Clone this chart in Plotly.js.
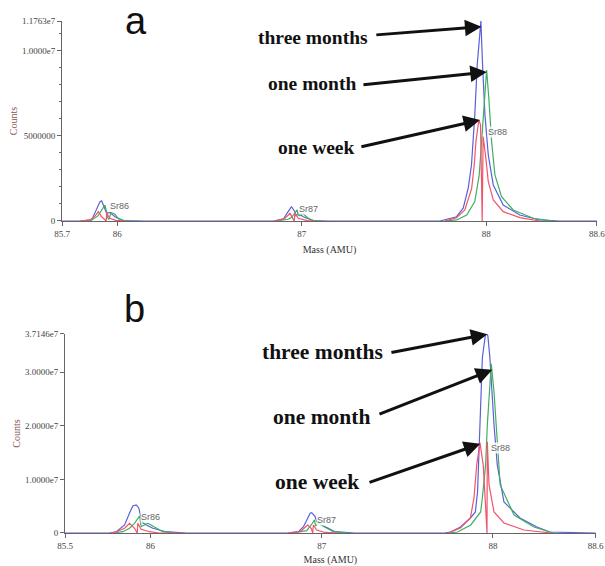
<!DOCTYPE html>
<html>
<head>
<meta charset="utf-8">
<script src="https://cdn.plot.ly/plotly-3.0.1.min.js"></script>
<style>html,body{margin:0;padding:0;background:#fff;}#chart{width:605px;height:566px;}</style>
</head>
<body>
<div id="chart"></div>
<script>
// ---------- DATA ----------
const seriesNames = ['three months', 'one month', 'one week'];
const isotopeLabels = ['Sr86', 'Sr87', 'Sr88'];
const panelLetters = ['a', 'b'];

// Panel a
const massA_threeMonths = [85.70, 85.798, 85.861, 85.888, 85.906, 85.915, 85.933, 85.942, 85.960, 85.987, 86.032, 86.150,
  86.844, 86.899, 86.926, 86.944, 86.963, 86.968, 86.980, 87.008, 87.062, 87.150,
  87.749, 87.839, 87.875, 87.902, 87.920, 87.938, 87.951, 87.971, 87.980, 87.993, 88.011, 88.038, 88.092, 88.182, 88.291, 88.399, 88.60];
const countsA_threeMonths = [0, 0, 0.06e6, 0.65e6, 1.14e6, 1.19e6, 0.75e6, 0.45e6, 0.51e6, 0.25e6, 0.02e6, 0,
  0, 0.10e6, 0.55e6, 0.84e6, 0.55e6, 0.29e6, 0.45e6, 0.25e6, 0.02e6, 0,
  0, 0.25e6, 0.75e6, 1.92e6, 3.29e6, 6.24e6, 9.18e6, 11.763e6, 9.18e6, 6.24e6, 3.88e6, 2.12e6, 0.94e6, 0.35e6, 0.06e6, 0, 0];

const massA_oneMonth = [85.825, 85.861, 85.895, 85.915, 85.933, 85.940, 85.946, 85.955, 85.965, 85.987, 86.004, 86.036, 86.070, null,
  86.860, 86.926, 86.945, 86.975, 86.981, 86.990, 87.005, 87.035, 87.062, 87.100, null,
  87.776, 87.839, 87.894, 87.938, 87.962, 87.975, 87.989, 88.002, 88.014, 88.029, 88.047, 88.083, 88.146, 88.255, 88.361];
const countsA_oneMonth = [0, 0.06e6, 0.30e6, 0.65e6, 0.94e6, 0.60e6, 0.20e6, 0.10e6, 0.50e6, 0.40e6, 0.15e6, 0.02e6, 0, null,
  0, 0.10e6, 0.22e6, 0.65e6, 0.35e6, 0.30e6, 0.45e6, 0.16e6, 0.02e6, 0, null,
  0, 0.06e6, 0.35e6, 1.14e6, 2.71e6, 4.67e6, 7.22e6, 8.88e6, 7.22e6, 4.67e6, 2.71e6, 1.43e6, 0.65e6, 0.16e6, 0];

const massA_oneWeek = [85.798, 85.852, 85.880, 85.897, 85.915, 85.938, 85.940, 85.942, 85.950, 85.960, 85.990, 86.050, null,
  86.850, 86.909, 86.936, 86.950, 86.959, 86.963, 86.981, 87.030, 87.080, null,
  87.776, 87.839, 87.884, 87.921, 87.935, 87.944, 87.960, 87.969, 87.978, 87.983, 87.996, 88.011, 88.038, 88.092, 88.182, 88.291];
const countsA_oneWeek = [0, 0.06e6, 0.30e6, 0.55e6, 0.25e6, 0.05e6, 0, 0.53e6, 0.30e6, 0.16e6, 0.04e6, 0, null,
  0, 0.16e6, 0.45e6, 0.22e6, 0, 0.47e6, 0.16e6, 0.02e6, 0, null,
  0, 0.20e6, 0.65e6, 1.92e6, 3.29e6, 4.67e6, 5.94e6, 5.65e6, 0, 4.96e6, 3.88e6, 2.31e6, 1.24e6, 0.55e6, 0.20e6, 0];

// Panel b
const massB_threeMonths = [85.50, 85.761, 85.800, 85.848, 85.877, 85.896, 85.916, 85.931, 85.945, 85.955, 85.975, 86.013, 86.090, 86.206,
  86.796, 86.864, 86.893, 86.912, 86.932, 86.941, 86.961, 86.970, 86.999, 87.038, 87.077, 87.193,
  87.717, 87.752, 87.810, 87.868, 87.897, 87.910, 87.918, 87.924, 87.938, 87.955, 87.963, 87.970, 87.982, 88.006, 88.025, 88.064, 88.158, 88.257, 88.332, 88.60];
const countsB_threeMonths = [0, 0, 0.24e6, 1.50e6, 3.74e6, 5.05e6, 5.23e6, 4.67e6, 2.74e6, 1.90e6, 1.50e6, 0.88e6, 0.24e6, 0,
  0, 0.24e6, 1.18e6, 2.43e6, 3.68e6, 3.79e6, 3.05e6, 2.11e6, 1.50e6, 0.88e6, 0.24e6, 0,
  0, 0.19e6, 1.12e6, 2.80e6, 3.93e6, 7.72e6, 14.02e6, 20.19e6, 32.71e6, 36.82e6, 37.146e6, 36.82e6, 32.71e6, 20.19e6, 12.71e6, 5.79e6, 2.80e6, 1.12e6, 0.19e6, 0];

const massB_oneMonth = [85.779, 85.838, 85.877, 85.906, 85.935, 85.945, 85.983, 86.022, 86.071, 86.148, null,
  86.825, 86.912, 86.938, 86.957, 86.964, 86.980, 87.019, 87.067, 87.154, null,
  87.740, 87.793, 87.870, 87.928, 87.938, 87.957, 87.967, 87.990, 88.006, 88.025, 88.042, 88.123, 88.239, 88.332, 88.360];
const countsB_oneMonth = [0, 0.24e6, 0.88e6, 1.81e6, 3.18e6, 1.18e6, 1.81e6, 1.07e6, 0.24e6, 0, null,
  0, 0.43e6, 1.50e6, 2.43e6, 1.31e6, 1.81e6, 1.07e6, 0.24e6, 0, null,
  0, 0.19e6, 1.50e6, 3.93e6, 6.54e6, 12.71e6, 20.19e6, 31.59e6, 26.36e6, 17.01e6, 8.97e6, 3.36e6, 1.12e6, 0.19e6, 0];

const massB_oneWeek = [85.761, 85.800, 85.848, 85.877, 85.906, 85.922, 85.925, 85.945, 85.993, 86.051, 86.200, null,
  86.806, 86.874, 86.903, 86.918, 86.938, 86.947, 86.951, 86.970, 87.019, 87.100, null,
  87.740, 87.752, 87.810, 87.868, 87.889, 87.905, 87.924, 87.943, 87.955, 87.965, 87.967, 87.977, 88.006, 88.064, 88.180, 88.315, 88.340];
const countsB_oneWeek = [0, 0.24e6, 0.88e6, 1.81e6, 0.88e6, 0, 1.81e6, 0.69e6, 0.24e6, 0, 0, null,
  0, 0.24e6, 1.07e6, 1.50e6, 0.88e6, 0, 1.50e6, 0.56e6, 0.10e6, 0, null,
  0, 0.19e6, 0.93e6, 2.80e6, 6.54e6, 12.71e6, 16.82e6, 12.71e6, 6.00e6, 0, 17.01e6, 8.97e6, 3.93e6, 1.87e6, 0.56e6, 0.19e6, 0];

// Axis ticks
const xTicksA = [85.7, 86, 87, 88, 88.6];
const xTickTextA = ['85.7', '86', '87', '88', '88.6'];
const yTicksA = [0, 5000000, 10000000, 11763000];
const yTickTextA = ['0', '5000000', '1.0000e7', '1.1763e7'];
const xTicksB = [85.5, 86, 87, 88, 88.6];
const xTickTextB = ['85.5', '86', '87', '88', '88.6'];
const yTicksB = [0, 10000000, 20000000, 30000000, 37146000];
const yTickTextB = ['0', '1.0000e7', '2.0000e7', '3.0000e7', '3.7146e7'];

// ---------- STYLE ----------
const colors = {'three months': '#5b5fd8', 'one month': '#3fae62', 'one week': '#f0556c'};
const lw = 1.2;

function tr(x, y, name, xa, ya) {
  return {x: x, y: y, type: 'scatter', mode: 'lines', name: name, xaxis: xa, yaxis: ya,
    line: {color: colors[name], width: lw}, connectgaps: false, hoverinfo: 'skip', showlegend: false};
}

const data = [
  tr(massA_threeMonths, countsA_threeMonths, seriesNames[0], 'x', 'y'),
  tr(massA_oneMonth, countsA_oneMonth, seriesNames[1], 'x', 'y'),
  tr(massA_oneWeek, countsA_oneWeek, seriesNames[2], 'x', 'y'),
  tr(massB_threeMonths, countsB_threeMonths, seriesNames[0], 'x2', 'y2'),
  tr(massB_oneMonth, countsB_oneMonth, seriesNames[1], 'x2', 'y2'),
  tr(massB_oneWeek, countsB_oneWeek, seriesNames[2], 'x2', 'y2')
];

const tickFont = {family: 'Liberation Serif', size: 9, color: '#444'};
const axisCommon = {showline: true, linecolor: '#666', linewidth: 1, ticks: 'outside', ticklen: 4,
  tickcolor: '#666', showgrid: false, zeroline: false, tickfont: tickFont, fixedrange: true};
const xTitle = {text: 'Mass (AMU)', font: {family: 'Liberation Serif', size: 10, color: '#333'}, standoff: 8};
const yTitle = {text: 'Counts', font: {family: 'Liberation Serif', size: 10, color: '#8a5050'}, standoff: 2};

const layout = {
  width: 605, height: 566,
  margin: {l: 62, r: 6, t: 21, b: 33},
  paper_bgcolor: '#fff', plot_bgcolor: '#fff',
  showlegend: false,
  xaxis: Object.assign({}, axisCommon, {domain: [0, 0.9963], anchor: 'y', range: [85.7, 88.6005],
    tickmode: 'array', tickvals: xTicksA, ticktext: xTickTextA, title: xTitle, ticklabeloverflow: 'allow'}),
  yaxis: Object.assign({}, axisCommon, {domain: [0.6094, 1], anchor: 'x', range: [0, 11763000],
    tickmode: 'array', tickvals: yTicksA, ticktext: yTickTextA, title: yTitle,
    minor: {tickmode: 'linear', tick0: 0, dtick: 1000000, ticklen: 2.5, tickcolor: '#666', showgrid: false}}),
  xaxis2: Object.assign({}, axisCommon, {domain: [0.0056, 0.994], anchor: 'y2', range: [85.5, 88.6005],
    tickmode: 'array', tickvals: xTicksB, ticktext: xTickTextB, title: xTitle, ticklabeloverflow: 'allow'}),
  yaxis2: Object.assign({}, axisCommon, {domain: [0, 0.3887], anchor: 'x2', range: [0, 37146000],
    tickmode: 'array', tickvals: yTicksB, ticktext: yTickTextB, title: yTitle}),
  annotations: []
};

const A = layout.annotations;
// panel letters (paper coordinates)
A.push({xref: 'paper', yref: 'paper', x: 0.1378, y: 1.0, text: panelLetters[0], showarrow: false,
  xanchor: 'center', yanchor: 'middle', font: {family: 'Liberation Sans', size: 38, color: '#111'}});
A.push({xref: 'paper', yref: 'paper', x: 0.1359, y: 0.437, text: panelLetters[1], showarrow: false,
  xanchor: 'center', yanchor: 'middle', font: {family: 'Liberation Sans', size: 38, color: '#111'}});

// isotope labels
const isoFont = {family: 'Liberation Sans', size: 9, color: '#666'};
[[85.955, 0.88e6], [86.979, 0.71e6], [88.003, 5.24e6]].forEach((p, i) => A.push({xref: 'x', yref: 'y', x: p[0], y: p[1],
  text: isotopeLabels[i], showarrow: false, xanchor: 'left', yanchor: 'middle', font: isoFont, bgcolor: 'rgba(255,255,255,0.85)', borderpad: 0}));
[[85.941, 2.99e6], [86.968, 2.43e6], [87.984, 15.89e6]].forEach((p, i) => A.push({xref: 'x2', yref: 'y2', x: p[0], y: p[1],
  text: isotopeLabels[i], showarrow: false, xanchor: 'left', yanchor: 'middle', font: isoFont, bgcolor: 'rgba(255,255,255,0.85)', borderpad: 0}));

// series labels with arrows
function arrowLabel(xr, yr, text, tx, ty, fs, tailX, tailY, tipX, tipY) {
  A.push({xref: xr, yref: yr, x: tx, y: ty, text: '<b>' + text + '</b>', showarrow: false,
    font: {family: 'Liberation Serif', size: fs, color: '#111'}});
  A.push({xref: xr, yref: yr, axref: xr, ayref: yr, x: tipX, y: tipY, ax: tailX, ay: tailY, text: '',
    showarrow: true, arrowhead: 2, arrowsize: 1.1, arrowwidth: 3, arrowcolor: '#111', standoff: 0, startstandoff: 0});
}
arrowLabel('x', 'y', seriesNames[0], 87.060, 10.82e6, 19.5, 87.396, 10.94e6, 87.974, 11.43e6);
arrowLabel('x', 'y', seriesNames[1], 87.055, 8.06e6, 19.5, 87.326, 8.0e6, 88.003, 8.76e6);
arrowLabel('x', 'y', seriesNames[2], 87.082, 4.35e6, 19.5, 87.315, 4.35e6, 87.966, 5.94e6);
arrowLabel('x2', 'y2', seriesNames[0], 87.003, 33.83e6, 21.5, 87.398, 33.65e6, 87.967, 37.1e6);
arrowLabel('x2', 'y2', seriesNames[1], 86.997, 21.68e6, 21.5, 87.328, 22.06e6, 87.996, 30.47e6);
arrowLabel('x2', 'y2', seriesNames[2], 86.974, 9.53e6, 21.5, 87.270, 9.35e6, 87.926, 16.64e6);

Plotly.newPlot('chart', data, layout, {displayModeBar: false, staticPlot: true});
</script>
</body>
</html>
